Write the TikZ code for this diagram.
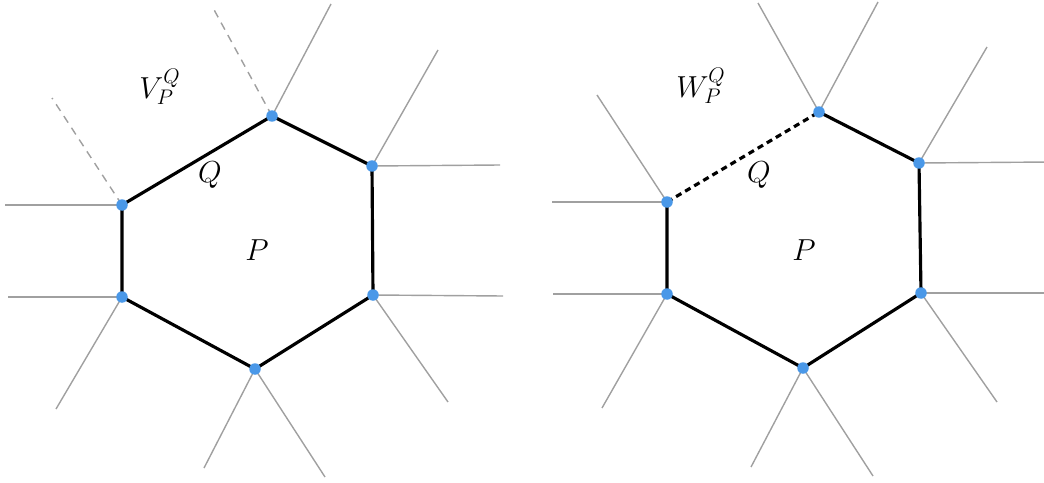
\documentclass[tikz,border=0pt]{standalone}
\usepackage{xcolor}
\definecolor{dotblue}{RGB}{74,152,232}
\definecolor{raygray}{RGB}{160,160,160}
\begin{document}
\begin{tikzpicture}[x=0.02cm,y=-0.02cm,
  ray/.style={draw=raygray,line width=0.8pt},
  dray/.style={draw=raygray,line width=0.8pt,dash pattern=on 4.5pt off 3.5pt},
  edge/.style={draw=black,line width=1.8pt,line join=round},
  dedge/.style={draw=black,line width=1.8pt,dash pattern=on 3.5pt off 2.5pt},
  vdot/.style={circle,fill=dotblue,inner sep=0pt,minimum size=0.23cm},
  lab/.style={font=\fontsize{17}{19}\selectfont}]
\useasboundingbox (0,0) rectangle (1044,483);
\clip (0,0) rectangle (1044,483);
% ---------- left panel ----------
\coordinate (lT) at (272,116);
\coordinate (lUR) at (372,166);
\coordinate (lLR) at (373,295);
\coordinate (lB) at (255,369);
\coordinate (lLL) at (122,297);
\coordinate (lUL) at (122,205);
\coordinate (lT1) at (212,6);
\coordinate (lT2) at (331,4);
\coordinate (lUR1) at (438,50);
\coordinate (lUR2) at (500,165);
\coordinate (lLR1) at (503,296);
\coordinate (lLR2) at (448,402);
\coordinate (lB1) at (204,468);
\coordinate (lB2) at (325,477);
\coordinate (lLL1) at (8,297);
\coordinate (lLL2) at (56,409);
\coordinate (lUL1) at (5,205);
\coordinate (lUL2) at (52,98);
\draw[dray] (lT) -- (lT1);
\draw[ray] (lT) -- (lT2);
\draw[ray] (lUR) -- (lUR1);
\draw[ray] (lUR) -- (lUR2);
\draw[ray] (lLR) -- (lLR1);
\draw[ray] (lLR) -- (lLR2);
\draw[ray] (lB) -- (lB1);
\draw[ray] (lB) -- (lB2);
\draw[ray] (lLL) -- (lLL1);
\draw[ray] (lLL) -- (lLL2);
\draw[ray] (lUL) -- (lUL1);
\draw[dray] (lUL) -- (lUL2);
\draw[edge] (lUL) -- (lT) -- (lUR) -- (lLR) -- (lB) -- (lLL) -- cycle;
\foreach \v in {lT,lUR,lLR,lB,lLL,lUL} \node[vdot] (d\v) at (\v) {};
\node[lab] (lV) at (160,87) {$V_P^Q$};
\node[lab] (lQ) at (210,175) {$Q$};
\node[lab] (lP) at (257,250) {$P$};
% ---------- right panel ----------
\coordinate (rT) at (819,112);
\coordinate (rUR) at (919,163);
\coordinate (rLR) at (921,293);
\coordinate (rB) at (803,368);
\coordinate (rLL) at (667,294);
\coordinate (rUL) at (667,202);
\coordinate (rT1) at (758,3);
\coordinate (rT2) at (878,2);
\coordinate (rUR1) at (987,47);
\coordinate (rUR2) at (1050,162);
\coordinate (rLR1) at (1050,293);
\coordinate (rLR2) at (997,402);
\coordinate (rB1) at (751,467);
\coordinate (rB2) at (873,476);
\coordinate (rLL1) at (553,294);
\coordinate (rLL2) at (602,408);
\coordinate (rUL1) at (552,202);
\coordinate (rUL2) at (597,95);
\draw[ray] (rT) -- (rT1);
\draw[ray] (rT) -- (rT2);
\draw[ray] (rUR) -- (rUR1);
\draw[ray] (rUR) -- (rUR2);
\draw[ray] (rLR) -- (rLR1);
\draw[ray] (rLR) -- (rLR2);
\draw[ray] (rB) -- (rB1);
\draw[ray] (rB) -- (rB2);
\draw[ray] (rLL) -- (rLL1);
\draw[ray] (rLL) -- (rLL2);
\draw[ray] (rUL) -- (rUL1);
\draw[ray] (rUL) -- (rUL2);
\draw[edge] (rT) -- (rUR) -- (rLR) -- (rB) -- (rLL) -- (rUL);
\draw[dedge] (rUL) -- (rT);
\foreach \v in {rT,rUR,rLR,rB,rLL,rUL} \node[vdot] (d\v) at (\v) {};
\node[lab] (rW) at (701,86) {$W_P^Q$};
\node[lab] (rQ) at (759,175) {$Q$};
\node[lab] (rP) at (804,250) {$P$};
\end{tikzpicture}
\end{document}
